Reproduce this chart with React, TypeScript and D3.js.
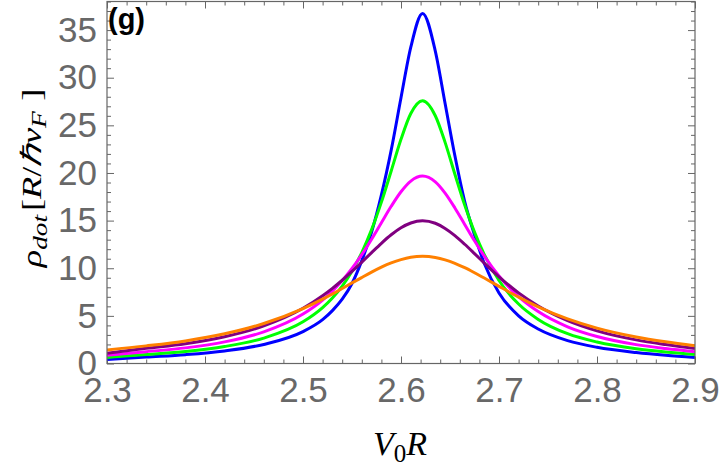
import React, { useEffect, useRef } from "react";
import * as d3 from "d3";

// values
const xs = [
  2.3, 2.34, 2.38, 2.42, 2.46, 2.5, 2.52, 2.53, 2.54, 2.55, 2.56, 2.57, 2.58,
  2.59, 2.6, 2.61, 2.622, 2.635, 2.645, 2.655, 2.665, 2.675, 2.685, 2.7, 2.72,
  2.74, 2.77, 2.8, 2.84, 2.87, 2.9,
];

const blue = [
  0.42, 0.68, 0.93, 1.32, 2.0, 3.35, 4.6, 5.55, 6.75, 8.4, 10.8, 13.8, 17.7,
  22.4, 27.9, 33.2, 36.75, 32.8, 27.3, 21.8, 17.0, 13.5, 10.5, 7.4, 5.0, 3.62,
  2.4, 1.7, 1.15, 0.86, 0.64,
];
const green = [
  0.64, 0.94, 1.26, 1.78, 2.67, 4.38, 5.87, 6.88, 8.13, 9.69, 11.65, 14.05,
  16.94, 20.21, 23.53, 26.24, 27.58, 26.01, 23.21, 19.87, 16.63, 13.79, 11.43,
  8.71, 6.24, 4.63, 3.13, 2.25, 1.54, 1.2, 0.95,
];
const magenta = [
  0.86, 1.24, 1.64, 2.27, 3.32, 5.19, 6.66, 7.6, 8.7, 9.97, 11.43, 13.05, 14.78,
  16.5, 18.03, 19.15, 19.67, 19.07, 17.89, 16.33, 14.6, 12.88, 11.27, 9.18,
  7.02, 5.45, 3.85, 2.83, 1.98, 1.57, 1.24,
];
const purple = [
  1.08, 1.59, 2.07, 2.81, 3.95, 5.8, 7.12, 7.89, 8.74, 9.66, 10.64, 11.64,
  12.62, 13.51, 14.25, 14.75, 14.98, 14.72, 14.18, 13.43, 12.52, 11.54, 10.54,
  9.1, 7.41, 6.04, 4.5, 3.43, 2.48, 1.99, 1.58,
];
const orange = [
  1.42, 1.85, 2.37, 3.12, 4.2, 5.76, 6.75, 7.29, 7.87, 8.46, 9.03, 9.59, 10.11,
  10.56, 10.91, 11.15, 11.25, 11.13, 10.88, 10.52, 10.06, 9.53, 8.97, 8.1,
  6.97, 5.95, 4.68, 3.71, 2.78, 2.28, 1.87,
];

const seriesList = [
  { name: "blue", values: blue, color: "#0000ff" },
  { name: "green", values: green, color: "#00ff00" },
  { name: "magenta", values: magenta, color: "#ff00ff" },
  { name: "purple", values: purple, color: "#800080" },
  { name: "orange", values: orange, color: "#ff8000" },
];

const xTicks = [2.3, 2.4, 2.5, 2.6, 2.7, 2.8, 2.9];
const yTicks = [0, 5, 10, 15, 20, 25, 30, 35];

const App: React.FC = () => {
  const svgRef = useRef<SVGSVGElement | null>(null);

  useEffect(() => {
    const width = 720;
    const height = 473;
    const left = 107;
    const right = 695;
    const top = 1.5;
    const bottom = 363.5;
    const frameColor = "#666666";

    const svg = d3.select(svgRef.current);
    svg.selectAll("*").remove();
    svg.attr("width", width).attr("height", height);

    const x = d3.scaleLinear().domain([2.3, 2.9]).range([left, right]);
    const y = d3.scaleLinear().domain([0, 38]).range([bottom, top]);

    // minor tick positions
    const xMinor = d3.range(2.3, 2.9001, 0.02).filter(
      (v) => Math.abs(v * 10 - Math.round(v * 10)) > 0.01
    );
    const yMinor = d3.range(0, 39, 1).filter((v) => v % 5 !== 0);

    const styleAxis = (g: d3.Selection<SVGGElement, unknown, null, undefined>) => {
      g.select(".domain").remove();
      g.selectAll(".tick line").attr("stroke", frameColor).attr("stroke-width", 1);
      g.selectAll(".tick text")
        .attr("fill", "#686868")
        .attr("font-family", "'Liberation Sans', Arial, sans-serif")
        .attr("font-size", 35);
    };

    // bottom
    svg
      .append("g")
      .attr("transform", `translate(0,${bottom})`)
      .call(d3.axisBottom(x).tickValues(xTicks).tickSize(-7).tickPadding(14).tickFormat(d3.format(".1f")))
      .call(styleAxis);
    svg
      .append("g")
      .attr("transform", `translate(0,${bottom})`)
      .call(d3.axisBottom(x).tickValues(xMinor).tickSize(-4).tickFormat(() => ""))
      .call(styleAxis);
    // top
    svg
      .append("g")
      .attr("transform", `translate(0,${top})`)
      .call(d3.axisTop(x).tickValues(xTicks).tickSize(-7).tickFormat(() => ""))
      .call(styleAxis);
    svg
      .append("g")
      .attr("transform", `translate(0,${top})`)
      .call(d3.axisTop(x).tickValues(xMinor).tickSize(-4).tickFormat(() => ""))
      .call(styleAxis);
    // left
    svg
      .append("g")
      .attr("transform", `translate(${left},0)`)
      .call(d3.axisLeft(y).tickValues(yTicks).tickSize(-7).tickPadding(10))
      .call(styleAxis);
    svg
      .append("g")
      .attr("transform", `translate(${left},0)`)
      .call(d3.axisLeft(y).tickValues(yMinor).tickSize(-4).tickFormat(() => ""))
      .call(styleAxis);
    // right
    svg
      .append("g")
      .attr("transform", `translate(${right},0)`)
      .call(d3.axisRight(y).tickValues(yTicks).tickSize(-7).tickFormat(() => ""))
      .call(styleAxis);
    svg
      .append("g")
      .attr("transform", `translate(${right},0)`)
      .call(d3.axisRight(y).tickValues(yMinor).tickSize(-4).tickFormat(() => ""))
      .call(styleAxis);

    // clip for curves
    svg
      .append("clipPath")
      .attr("id", "plot-clip")
      .append("rect")
      .attr("x", left)
      .attr("y", top)
      .attr("width", right - left)
      .attr("height", bottom - top);

    const line = d3
      .line<number>()
      .x((_, i) => x(xs[i]))
      .y((d) => y(d))
      .curve(d3.curveMonotoneX);

    svg
      .append("g")
      .attr("clip-path", "url(#plot-clip)")
      .selectAll("path")
      .data(seriesList)
      .enter()
      .append("path")
      .attr("d", (s) => line(s.values))
      .attr("fill", "none")
      .attr("stroke", (s) => s.color)
      .attr("stroke-width", 3)
      .attr("stroke-linejoin", "round");

    // frame
    svg
      .append("rect")
      .attr("x", left)
      .attr("y", top)
      .attr("width", right - left)
      .attr("height", bottom - top)
      .attr("fill", "none")
      .attr("stroke", frameColor)
      .attr("stroke-width", 1.2);

    // panel label
    svg
      .append("text")
      .attr("x", 108)
      .attr("y", 29)
      .attr("font-family", "'Liberation Sans', Arial, sans-serif")
      .attr("font-weight", "bold")
      .attr("font-size", 29)
      .attr("fill", "#000")
      .text("(g)");

    // x axis label
    const xl = svg
      .append("text")
      .attr("x", 400)
      .attr("y", 455)
      .attr("text-anchor", "middle")
      .attr("font-family", "'Liberation Serif', 'Times New Roman', serif")
      .attr("font-size", 34)
      .attr("fill", "#000");
    xl.append("tspan").attr("font-style", "italic").text("V");
    xl.append("tspan").attr("font-size", 25).attr("dy", 7).text("0");
    xl.append("tspan").attr("font-style", "italic").attr("dy", -7).text("R");

    // y axis label (stretched along its length like the reference)
    const yl = svg
      .append("text")
      .attr("transform", "translate(41,178) rotate(-90) scale(1.3,1)")
      .attr("text-anchor", "middle")
      .attr("font-family", "'Liberation Serif', 'Times New Roman', serif")
      .attr("font-size", 28)
      .attr("fill", "#000");
    yl.append("tspan").attr("font-style", "italic").text("ρ");
    yl.append("tspan").attr("font-style", "italic").attr("font-size", 21).attr("dy", 6).text("dot");
    yl.append("tspan").attr("dy", -6).attr("dx", 3).text("[");
    yl.append("tspan").attr("font-style", "italic").text("R");
    yl.append("tspan").text("/");
    yl.append("tspan").attr("font-style", "italic").text("ℏv");
    yl.append("tspan").attr("font-style", "italic").attr("font-size", 21).attr("dy", 5).text("F");
    yl.append("tspan").attr("dy", -5).attr("dx", 8).text("]");
  }, []);

  return (
    <div style={{ position: "absolute", left: 0, top: 0 }}>
      <svg ref={svgRef}></svg>
    </div>
  );
};

export default App;
